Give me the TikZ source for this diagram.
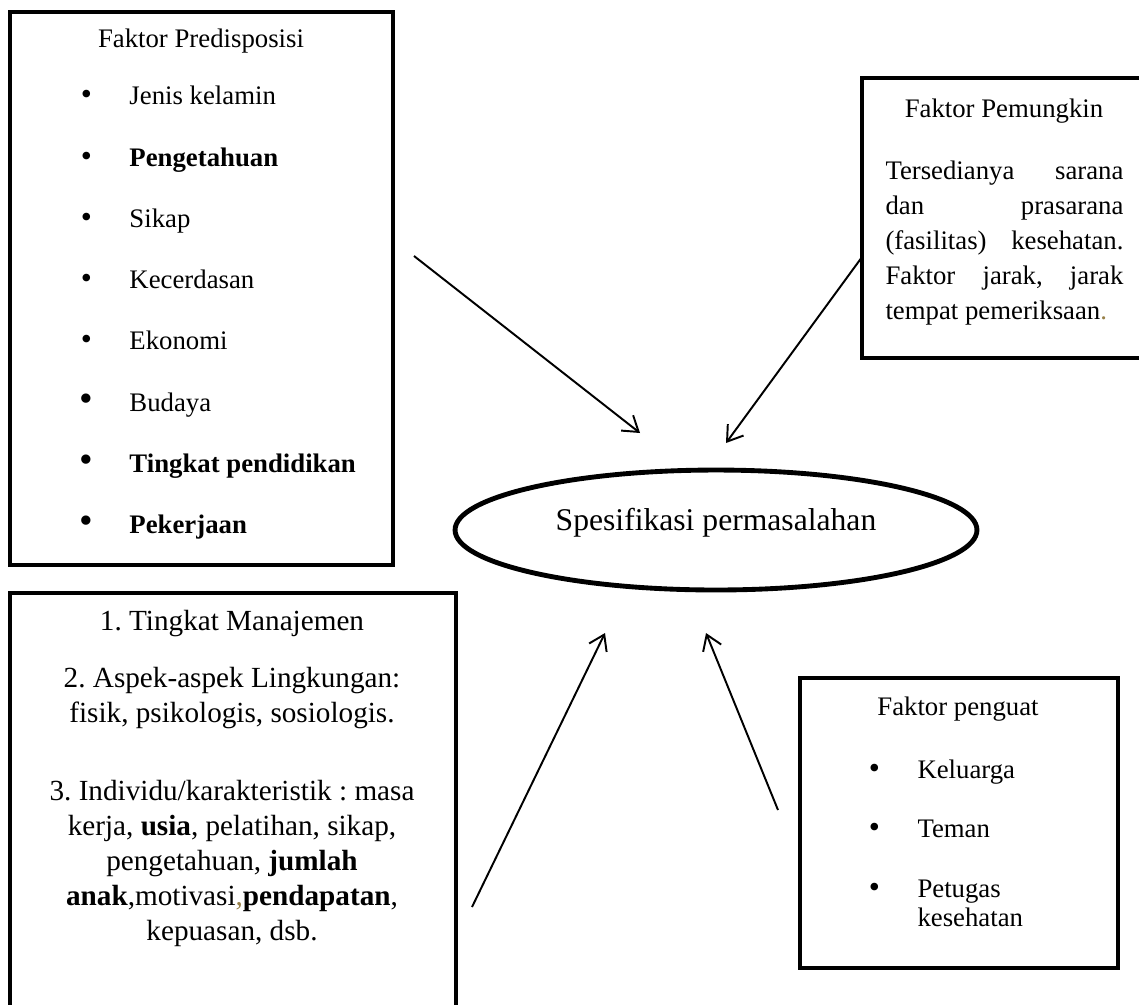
\documentclass[tikz,border=0pt]{standalone}
\usepackage{fontspec}
\setmainfont{Liberation Serif}
\usetikzlibrary{shapes.geometric,arrows.meta,positioning}
\definecolor{stray}{RGB}{152,128,72}
\newcommand{\bul}[1][13pt]{\leavevmode\llap{\makebox[0pt]{\fontsize{#1}{#1}\selectfont\textbullet}\hspace{17.7pt}}}
\frenchspacing

\begin{document}
\begin{tikzpicture}[x=0.411pt, y=-0.411pt,
    frame/.style={draw, line width=2pt},
    txt/.style={inner sep=0pt, font=\fontsize{11}{13.2}\selectfont},
    item/.style={txt, anchor=base west},
    conn/.style={line width=0.8pt, -{Straight Barb[length=6pt, width=8pt]}}]
    \path[use as bounding box, clip] (0,0) rectangle (1139,1004);

    % faktor predisposisi
    \draw[frame] (10,12) rectangle (393,565);
    \node[txt, anchor=base] (predis) at (201,47) {Faktor Predisposisi};
    \node[item] (jenis) at (129,104) {\bul Jenis kelamin};
    \node[item] (tahu) at (129,166) {\bul \textbf{Pengetahuan}};
    \node[item] (sikap) at (129,227) {\bul Sikap};
    \node[item] (cerdas) at (129,288) {\bul Kecerdasan};
    \node[item] (ekonomi) at (129,349) {\bul Ekonomi};
    \node[item] (budaya) at (129,411) {\bul[16pt]Budaya};
    \node[item] (didik) at (129,472) {\bul[16pt]\textbf{Tingkat pendidikan}};
    \node[item] (kerja) at (129,533) {\bul[16pt]\textbf{Pekerjaan}};

    % faktor pemungkin
    \draw[frame] (862,78) rectangle (1150,358);
    \node[txt, anchor=base] (mungkin) at (1004,117) {Faktor Pemungkin};
    \node[txt, anchor=north west, text width=97.8pt, align=justify,
        font=\fontsize{11}{14.4}\selectfont] (sarana) at (885,160)
        {Tersedianya sarana\linebreak dan prasarana\linebreak (fasilitas) kesehatan.\linebreak
         Faktor jarak, jarak\linebreak tempat pemeriksaan{\color{stray}.}};

    % manajemen
    \draw[frame] (10,593) rectangle (456,1015);
    \node[txt, anchor=north, align=center, font=\fontsize{12}{14.4}\selectfont] (manaj) at (232,610)
        {1. Tingkat Manajemen\\[9pt]
         2. Aspek-aspek Lingkungan:\\ fisik, psikologis, sosiologis.\\[17.7pt]
         3. Individu/karakteristik : masa\\ kerja, \textbf{usia}, pelatihan, sikap,\\
         pengetahuan, \textbf{jumlah}\\ \textbf{anak},motivasi{\color{stray},}\textbf{pendapatan},\\
         kepuasan, dsb.};

    % faktor penguat
    \draw[frame] (800,678) rectangle (1118,968);
    \node[txt, anchor=base] (penguat) at (958,715) {Faktor penguat};
    \node[item] (keluarga) at (917,778) {\bul Keluarga};
    \node[item] (teman) at (917,837) {\bul Teman};
    \node[txt, anchor=north west, align=left, font=\fontsize{11}{12.3}\selectfont] (petugas) at (917,879)
        {\bul Petugas\\kesehatan};

    % masalah
    \node[draw, ellipse, line width=2pt, minimum width=214.5pt, minimum height=49.3pt,
        inner sep=0pt, text height=6pt, text depth=6pt, font=\fontsize{13}{15.6}\selectfont]
        (spec) at (716,530) {Spesifikasi permasalahan};

    \coordinate (predisEnd) at (414,256);
    \coordinate (predisTip) at (640,433);
    \coordinate (mungkinEnd) at (862,257);
    \coordinate (mungkinTip) at (726,443);
    \coordinate (manajEnd) at (472,907);
    \coordinate (manajTip) at (605,633);
    \coordinate (penguatEnd) at (778,810);
    \coordinate (penguatTip) at (706,633);
    \draw[conn] (predisEnd) -- (predisTip);
    \draw[conn] (mungkinEnd) -- (mungkinTip);
    \draw[conn] (manajEnd) -- (manajTip);
    \draw[conn] (penguatEnd) -- (penguatTip);
\end{tikzpicture}
\end{document}
